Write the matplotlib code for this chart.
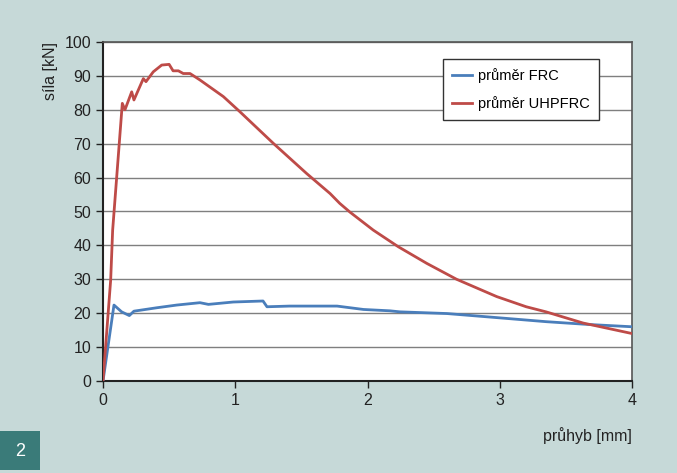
import matplotlib
matplotlib.use("Agg")
import matplotlib.pyplot as plt
from matplotlib.patches import Rectangle

plt.rcParams["font.family"] = ["Liberation Sans", "DejaVu Sans"]

# ---- data ----
frc_x = [0.0, 0.083, 0.141, 0.199, 0.234, 0.406, 0.557, 0.733, 0.797, 0.985,
         1.21, 1.24, 1.41, 1.77, 1.97, 2.17, 2.245, 2.6, 2.977, 3.35, 3.66, 4.0]
frc_y = [0.0, 22.4, 20.4, 19.3, 20.6, 21.6, 22.4, 23.1, 22.6, 23.3,
         23.6, 21.9, 22.1, 22.1, 21.1, 20.7, 20.4, 19.9, 18.7, 17.5, 16.7, 16.0]

uhp_x = [0.0, 0.058, 0.073, 0.146, 0.166, 0.217, 0.234, 0.305, 0.325, 0.38,
         0.444, 0.50, 0.53, 0.57, 0.607, 0.658, 0.733, 0.91, 1.036, 1.288,
         1.54, 1.717, 1.79, 1.868, 2.044, 2.233, 2.448, 2.674, 2.977, 3.2,
         3.35, 3.63, 4.0]
uhp_y = [0.0, 29.8, 44.5, 81.9, 80.0, 85.3, 82.9, 89.2, 88.3, 91.2,
         93.2, 93.4, 91.5, 91.5, 90.7, 90.7, 88.8, 83.9, 79.4, 70.1,
         61.2, 55.3, 52.4, 49.8, 44.5, 39.6, 34.7, 30.0, 24.9, 21.9,
         20.4, 17.1, 14.0]

x_ticks = [0, 1, 2, 3, 4]
y_ticks = list(range(0, 101, 10))

bg = "#c6d9d8"
fig = plt.figure(figsize=(6.77, 4.73), dpi=100, facecolor=bg)
ax = fig.add_axes([103 / 677, 1 - 381 / 473, 529 / 677, 339 / 473])
ax.set_facecolor("white")

for yv in y_ticks[1:]:
    ax.axhline(yv, color="#7f7f7f", lw=1.0, zorder=1)

ax.plot(frc_x, frc_y, color="#4a7ebb", lw=2.0, label="průměr FRC", zorder=3)
ax.plot(uhp_x, uhp_y, color="#be4b48", lw=2.0, label="průměr UHPFRC", zorder=3)

ax.set_xlim(0, 4)
ax.set_ylim(0, 100)
ax.set_xticks(x_ticks)
ax.set_yticks(y_ticks)
ax.tick_params(axis="both", labelsize=11.5, colors="#222222", length=5, width=1, direction="out")

for side in ["left", "bottom"]:
    ax.spines[side].set_linewidth(1.5)
    ax.spines[side].set_color("#222222")
for side in ["right", "top"]:
    ax.spines[side].set_linewidth(1.2)
    ax.spines[side].set_color("#555555")

ax.set_xlabel("průhyb [mm]", fontsize=11.5, color="#222222")
ax.xaxis.set_label_coords(1.0, -0.135)
ax.xaxis.label.set_horizontalalignment("right")
ax.set_ylabel("síla [kN]", fontsize=11.5, color="#222222")
ax.yaxis.set_label_coords(-0.1, 1.0)
ax.yaxis.label.set_verticalalignment("center")
ax.yaxis.label.set_horizontalalignment("right")

leg = ax.legend(loc="upper left", bbox_to_anchor=(0.643, 0.95), fontsize=10.5,
                frameon=True, fancybox=False, handlelength=1.4, handletextpad=0.4,
                borderpad=0.6, labelspacing=0.9, borderaxespad=0)
leg.get_frame().set_edgecolor("#333333")
leg.get_frame().set_linewidth(1.0)
leg.get_frame().set_alpha(1)

# badge with figure number
fig.patches.append(Rectangle((0, 3 / 473), 40 / 677, 39 / 473, transform=fig.transFigure,
                             facecolor="#3a7b79", edgecolor="none"))
fig.text(20 / 677, 1 - 451 / 473, "2", color="white", fontsize=13, ha="center", va="center")

fig.savefig("out.png", dpi=100, facecolor=bg)
